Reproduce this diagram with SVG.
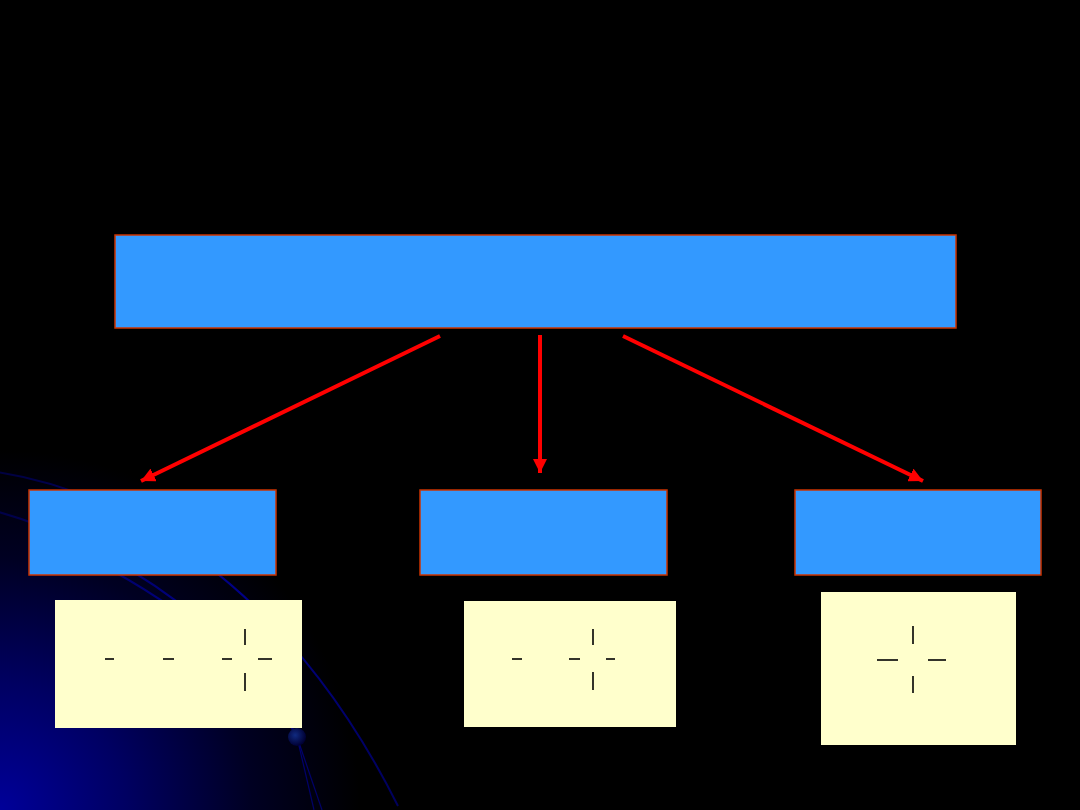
<svg xmlns="http://www.w3.org/2000/svg" width="1080" height="810" viewBox="0 0 1080 810">
  <defs>
    <radialGradient id="bgGlow" gradientUnits="userSpaceOnUse" cx="0" cy="810" r="360">
      <stop offset="0" stop-color="#000099"/>
      <stop offset="0.35" stop-color="#000062"/>
      <stop offset="0.7" stop-color="#000022"/>
      <stop offset="1" stop-color="#000000"/>
    </radialGradient>
    <linearGradient id="arcFade" gradientUnits="userSpaceOnUse" x1="0" y1="470" x2="400" y2="810">
      <stop offset="0" stop-color="#000040"/>
      <stop offset="0.5" stop-color="#000088"/>
      <stop offset="1" stop-color="#00005a"/>
    </linearGradient>
    <radialGradient id="sphere" cx="0.4" cy="0.4" r="0.6">
      <stop offset="0" stop-color="#102a80"/>
      <stop offset="1" stop-color="#000033"/>
    </radialGradient>
    <marker id="arrow" viewBox="0 0 14 14" refX="14" refY="7" markerWidth="14" markerHeight="14" markerUnits="userSpaceOnUse" orient="auto">
      <path d="M0,0 L14,7 L0,14 z" fill="#ff0000"/>
    </marker>
    <style>
      .blue { fill: #3399ff; stroke: #cc3300; stroke-width: 1.5; }
      .cream { fill: #ffffcc; stroke: none; }
      .mark { stroke: #000000; stroke-width: 1.6; fill: none; }
      .conn { stroke: #ff0000; stroke-width: 4; fill: none; marker-end: url(#arrow); }
      .arc { stroke: url(#arcFade); fill: none; }
    </style>
  </defs>

  <!-- background -->
  <rect x="0" y="0" width="1080" height="810" fill="#000000"/>
  <rect x="0" y="0" width="1080" height="810" fill="url(#bgGlow)"/>
  <g id="background-arcs">
    <path class="arc" stroke-width="2" d="M -10 471 C 130 490, 290 590, 398 806"/>
    <path class="arc" stroke-width="2" d="M -5 511 C 120 545, 250 640, 297 737"/>
    <path class="arc" stroke-width="2" d="M 60 545 C 140 580, 250 650, 297 737"/>
    <path class="arc" stroke-width="1.2" d="M 297 737 L 322 810"/>
    <path class="arc" stroke-width="1.2" d="M 297 737 L 314 810"/>
    <circle cx="297" cy="737" r="9" fill="url(#sphere)"/>
  </g>

  <g id="top-node">
    <rect class="blue" x="115" y="235" width="841" height="93" stroke-width="1"/>
  </g>

  <g id="connectors">
    <line class="conn" x1="440" y1="336" x2="141" y2="481"/>
    <line class="conn" x1="540" y1="335" x2="540" y2="473"/>
    <line class="conn" x1="623" y1="336" x2="923" y2="481"/>
  </g>

  <g id="left-node">
    <rect class="blue" x="29" y="490" width="247" height="85"/>
  </g>
  <g id="middle-node">
    <rect class="blue" x="420" y="490" width="247" height="85"/>
  </g>
  <g id="right-node">
    <rect class="blue" x="795" y="490" width="246" height="85"/>
  </g>

  <g id="left-note">
    <rect class="cream" x="55" y="600" width="247" height="128"/>
    <line class="mark" x1="105" y1="659" x2="114" y2="659"/>
    <line class="mark" x1="163" y1="659" x2="174" y2="659"/>
    <line class="mark" x1="222" y1="659" x2="232" y2="659"/>
    <line class="mark" x1="258" y1="659" x2="272" y2="659"/>
    <line class="mark" x1="245" y1="629" x2="245" y2="645"/>
    <line class="mark" x1="245" y1="673" x2="245" y2="691"/>
  </g>

  <g id="middle-note">
    <rect class="cream" x="464" y="601" width="212" height="126"/>
    <line class="mark" x1="512" y1="659" x2="522" y2="659"/>
    <line class="mark" x1="569" y1="659" x2="580" y2="659"/>
    <line class="mark" x1="606" y1="659" x2="615" y2="659"/>
    <line class="mark" x1="593" y1="629" x2="593" y2="645"/>
    <line class="mark" x1="593" y1="672" x2="593" y2="690"/>
  </g>

  <g id="right-note">
    <rect class="cream" x="821" y="592" width="195" height="153"/>
    <line class="mark" x1="877" y1="660" x2="898" y2="660"/>
    <line class="mark" x1="928" y1="660" x2="946" y2="660"/>
    <line class="mark" x1="913" y1="626" x2="913" y2="644"/>
    <line class="mark" x1="913" y1="676" x2="913" y2="693"/>
  </g>
</svg>
